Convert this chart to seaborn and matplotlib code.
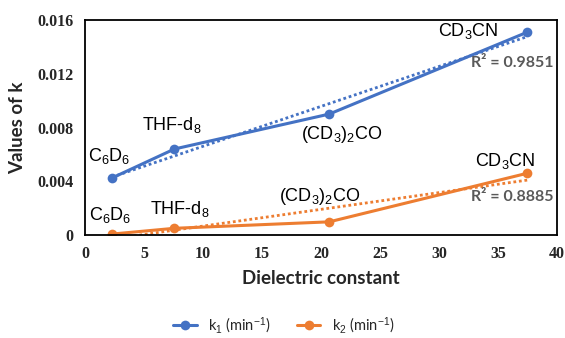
import numpy as np
import pandas as pd
import matplotlib
matplotlib.use("Agg")
import matplotlib.pyplot as plt
import seaborn as sns

# ---- data ----
solvents = ["C$_6$D$_6$", "THF-d$_8$", "(CD$_3$)$_2$CO", "CD$_3$CN"]
dielectric = [2.28, 7.58, 20.7, 37.5]
k1 = [0.00424, 0.0064, 0.0090, 0.0151]
k2 = [0.00007, 0.0005, 0.00098, 0.0046]
series_names = ["k$_1$ (min$^{-1}$)", "k$_2$ (min$^{-1}$)"]
r2_labels = ["R² = 0.9851", "R² = 0.8885"]
x_ticks = [0, 5, 10, 15, 20, 25, 30, 35, 40]
y_ticks = [0, 0.004, 0.008, 0.012, 0.016]
y_tick_labels = ["0", "0.004", "0.008", "0.012", "0.016"]

sns.set_theme(style="white")
plt.rcParams["font.family"] = ["Liberation Sans", "DejaVu Sans"]
plt.rcParams["mathtext.fontset"] = "custom"
plt.rcParams["mathtext.rm"] = "Liberation Sans"
plt.rcParams["mathtext.it"] = "Liberation Sans"
plt.rcParams["mathtext.bf"] = "Liberation Sans:bold"

colors = ["#4472C4", "#ED7D31"]

df = pd.DataFrame({
    "x": dielectric * 2,
    "k": k1 + k2,
    "series": [series_names[0]] * 4 + [series_names[1]] * 4,
})

fig = plt.figure(figsize=(5.65, 3.38), dpi=100)
ax = fig.add_axes([0.1504, 0.3047, 0.8354, 0.6361])

# trendlines (linear fits)
for vals, c in zip([k1, k2], colors):
    sns.regplot(x=np.array(dielectric), y=np.array(vals), ax=ax, scatter=False, ci=None,
                color=c, line_kws=dict(ls=(0, (1, 1)), lw=2.0))

sns.lineplot(data=df, x="x", y="k", hue="series", palette=colors, marker="o",
             markersize=7, markeredgewidth=0, linewidth=2.2, ax=ax, legend=True)

ax.set_xlim(0, 40)
ax.set_ylim(0, 0.016)
ax.set_xticks(x_ticks)
ax.set_yticks(y_ticks)
ax.set_yticklabels(y_tick_labels)
ax.set_xticklabels([str(t) for t in x_ticks])
for lab in ax.get_xticklabels() + ax.get_yticklabels():
    lab.set_fontfamily("Liberation Serif")
    lab.set_fontweight("bold")
    lab.set_fontsize(11.5)
ax.tick_params(axis="both", length=0, pad=8)

for s in ax.spines.values():
    s.set_visible(True)
    s.set_color("black")
    s.set_linewidth(1.3)

ax.set_xlabel("Dielectric constant", fontfamily="Lato", fontweight="bold", fontsize=13.5, labelpad=6)
ax.set_ylabel("Values of k", fontfamily="Lato", fontweight="bold", fontsize=13.5, labelpad=8)

# annotations (offsets in points relative to data points)
fs = 13
k1_offsets = [(-2, 16), (-2, 17), (9, -15), (-43, 1)]
k2_offsets = [(-1, 14), (4, 14), (-7, 18), (-16, 9)]
for xv, yv, name, off in zip(dielectric, k1, solvents, k1_offsets):
    ax.annotate(name, (xv, yv), xytext=off, textcoords="offset points",
                ha="center", va="center", fontsize=fs, color="black")
for xv, yv, name, off in zip(dielectric, k2, solvents, k2_offsets):
    ax.annotate(name, (xv, yv), xytext=off, textcoords="offset points",
                ha="center", va="center", fontsize=fs, color="black")

ax.text(0.993, 0.800, r2_labels[0], transform=ax.transAxes, ha="right", va="center",
        fontsize=11.5, fontweight="bold", color="#595959", fontfamily="Lato")
ax.text(0.993, 0.179, r2_labels[1], transform=ax.transAxes, ha="right", va="center",
        fontsize=11.5, fontweight="bold", color="#595959", fontfamily="Lato")

leg = ax.legend(loc="center", bbox_to_anchor=(0.4216, -0.419), ncol=2, frameon=False,
                fontsize=10.5, handlelength=1.6, columnspacing=1.8, handletextpad=0.8)
for t in leg.get_texts():
    t.set_fontfamily("Lato")

fig.savefig("out.png", dpi=100)
